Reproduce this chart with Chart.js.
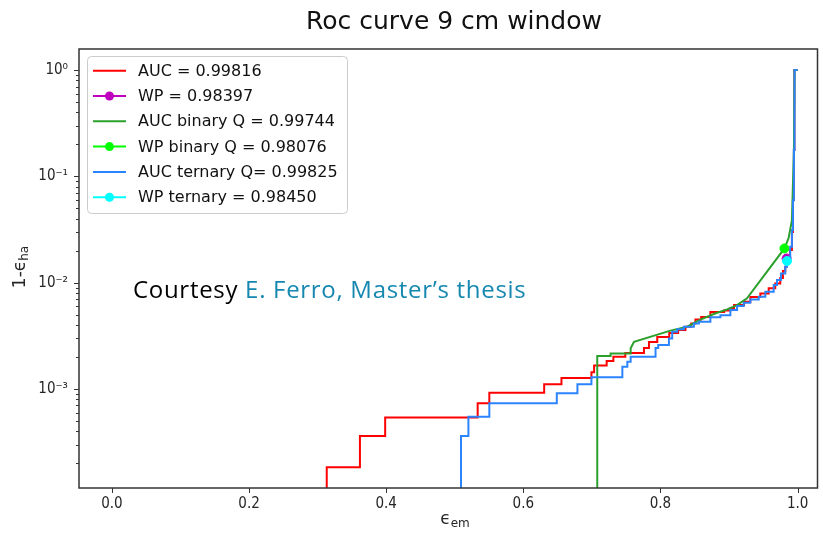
<!DOCTYPE html>
<html>
<head>
<meta charset="utf-8">
<script src="https://cdn.jsdelivr.net/npm/chart.js@4.4.1/dist/chart.umd.min.js"></script>
<style>
  html, body { margin: 0; padding: 0; background: #fff; overflow: hidden; }
  canvas { display: block; }
</style>
</head>
<body>
<canvas id="roc" width="823" height="534"></canvas>
<script>
// zero background rejection sits below the log axis and gets clipped
const FLOOR = 1e-6;

// full classifier
const aucX = [0.3133, 0.3133, 0.3617, 0.3985, 0.5334, 0.5504, 0.6304, 0.6556, 0.6993, 0.7032,
  0.7215, 0.7313, 0.7487, 0.7759, 0.7832, 0.7953, 0.8128, 0.8258, 0.8365, 0.8448,
  0.8510, 0.8593, 0.8728, 0.8928, 0.9020, 0.9073, 0.9219, 0.9311, 0.9456, 0.9578,
  0.9674, 0.9747, 0.9786, 0.9820, 0.9840, 0.9888, 0.9917, 0.9932, 0.9946, 0.9953, 1.0];
const aucY = [FLOOR, 1.83e-4, 3.60e-4, 5.40e-4, 7.32e-4, 9.21e-4, 1.11e-3, 1.27e-3, 1.44e-3, 1.66e-3,
  1.83e-3, 2.01e-3, 2.18e-3, 2.43e-3, 2.76e-3, 3.08e-3, 3.36e-3, 3.58e-3, 3.85e-3, 4.14e-3,
  4.50e-3, 4.75e-3, 5.29e-3, 5.46e-3, 5.77e-3, 6.15e-3, 6.61e-3, 7.32e-3, 7.93e-3, 8.84e-3,
  9.85e-3, 1.105e-2, 1.285e-2, 1.41e-2, 1.69e-2, 2.03e-2, 3.0e-2, 6.0e-2, 0.177, 1.0, 1.0];

// binary Q
const binX = [0.7078, 0.7078, 0.7273, 0.7273, 0.7565, 0.7565, 0.7614, 0.8146, 0.8389, 0.8583,
  0.8778, 0.8971, 0.9117, 0.9262, 0.98076, 0.9869, 0.9917, 0.9946, 0.9955, 1.0];
const binY = [FLOOR, 2.04e-3, 2.04e-3, 2.16e-3, 2.16e-3, 2.41e-3, 2.78e-3, 3.54e-3, 3.85e-3, 4.50e-3,
  5.07e-3, 5.61e-3, 6.15e-3, 7.12e-3, 2.10e-2, 2.63e-2, 3.88e-2, 0.177, 1.0, 1.0];

// ternary Q
const terX = [0.5091, 0.5091, 0.5199, 0.5504, 0.6488, 0.6789, 0.6993, 0.7444, 0.7517, 0.7565,
  0.7928, 0.7967, 0.8123, 0.8171, 0.8244, 0.8341, 0.8487, 0.8560, 0.8728, 0.8874,
  0.9019, 0.9117, 0.9214, 0.9310, 0.9433, 0.9529, 0.9651, 0.9699, 0.9757, 0.9820,
  0.9845, 0.9892, 0.9917, 0.9932, 0.9946, 0.9955, 1.0];
const terY = [FLOOR, 3.60e-4, 5.47e-4, 7.32e-4, 9.09e-4, 1.11e-3, 1.29e-3, 1.62e-3, 1.80e-3, 2.01e-3,
  2.43e-3, 2.59e-3, 2.99e-3, 3.45e-3, 3.64e-3, 3.85e-3, 4.14e-3, 4.29e-3, 4.72e-3, 4.95e-3,
  5.52e-3, 6.03e-3, 6.47e-3, 6.96e-3, 7.37e-3, 8.21e-3, 9.49e-3, 1.058e-2, 1.223e-2, 1.41e-2,
  1.60e-2, 2.18e-2, 3.13e-2, 5.98e-2, 0.177, 1.0, 1.0];

// working points
const wpX = [0.98397];
const wpY = [0.0169];
const wpBinX = [0.98076];
const wpBinY = [0.0210];
const wpTerX = [0.98450];
const wpTerY = [0.0160];

const seriesLabels = [
  "AUC = 0.99816",
  "WP = 0.98397",
  "AUC binary Q = 0.99744",
  "WP binary Q = 0.98076",
  "AUC ternary Q= 0.99825",
  "WP ternary = 0.98450",
];

const xTicks = [0, 0.2, 0.4, 0.6, 0.8, 1.0];
const yMajorTicks = [1e-3, 1e-2, 1e-1, 1];
const yMajorLabels = ["10\u207B\u00B3", "10\u207B\u00B2", "10\u207B\u00B9", "10\u2070"];

const RED = "#ff0000";
const GREEN = "#2ca02c";
const BLUE = "#2b84ff";
const MAGENTA = "#bf00bf";
const LIME = "#00ff00";
const CYAN = "#00ffff";
const INK = "#262626";
const TICK_FONT = "'DejaVu Sans Condensed', 'DejaVu Sans', sans-serif";

function points(xs, ys) {
  return xs.map((x, i) => ({ x, y: ys[i] }));
}

function curve(label, xs, ys, color, stepped, order) {
  return {
    label, data: points(xs, ys), borderColor: color, backgroundColor: color,
    borderWidth: 2, pointRadius: 0, stepped, order,
  };
}

function marker(label, xs, ys, color, order) {
  return {
    label, data: points(xs, ys), borderColor: color, backgroundColor: color,
    borderWidth: 2, pointRadius: 4.5, pointBorderWidth: 1, showLine: false, order,
  };
}

function drawSubscripted(ctx, base, sub, cx, baseline) {
  ctx.font = "17px 'DejaVu Sans'";
  const w1 = ctx.measureText(base).width;
  ctx.font = "12px 'DejaVu Sans'";
  const w2 = ctx.measureText(sub).width;
  const left = cx - (w1 + w2) / 2;
  ctx.textAlign = "left";
  ctx.textBaseline = "alphabetic";
  ctx.font = "17px 'DejaVu Sans'";
  ctx.fillText(base, left, baseline);
  ctx.font = "12px 'DejaVu Sans'";
  ctx.fillText(sub, left + w1, baseline + 3);
}

const overlay = {
  id: "overlay",
  afterDraw(chart) {
    const { ctx, chartArea: a, scales } = chart;
    ctx.save();

    // frame
    ctx.strokeStyle = "#333";
    ctx.lineWidth = 1.5;
    ctx.strokeRect(a.left, a.top, a.right - a.left, a.bottom - a.top);

    // tick marks, outward
    ctx.lineWidth = 1;
    ctx.beginPath();
    xTicks.forEach((v) => {
      const px = Math.round(scales.x.getPixelForValue(v)) + 0.5;
      ctx.moveTo(px, a.bottom);
      ctx.lineTo(px, a.bottom + 5);
    });
    scales.y.ticks.forEach((t) => {
      const py = Math.round(scales.y.getPixelForValue(t.value)) + 0.5;
      ctx.moveTo(a.left, py);
      ctx.lineTo(a.left - (t.major ? 5 : 3), py);
    });
    ctx.stroke();

    // title
    ctx.fillStyle = "#111";
    ctx.font = "25px 'DejaVu Sans'";
    ctx.textAlign = "center";
    ctx.textBaseline = "alphabetic";
    ctx.fillText("Roc curve 9 cm window", 454, 29);

    // axis titles
    ctx.fillStyle = INK;
    drawSubscripted(ctx, "\u03F5", "em", 455, 524);
    ctx.save();
    ctx.translate(19, 267);
    ctx.rotate(-Math.PI / 2);
    drawSubscripted(ctx, "1-\u03F5", "ha", 0, 6);
    ctx.restore();

    // legend
    const box = { x: 87, y: 56, w: 260, h: 157 };
    ctx.beginPath();
    ctx.roundRect(box.x + 0.5, box.y + 0.5, box.w, box.h, 4);
    ctx.fillStyle = "rgba(255,255,255,0.8)";
    ctx.fill();
    ctx.strokeStyle = "#cccccc";
    ctx.lineWidth = 1;
    ctx.stroke();
    ctx.font = "16px 'DejaVu Sans'";
    ctx.textAlign = "left";
    ctx.textBaseline = "middle";
    chart.data.datasets.forEach((ds, i) => {
      const rowY = 70.7 + i * 25.3;
      ctx.strokeStyle = ds.borderColor;
      ctx.lineWidth = 2;
      ctx.beginPath();
      ctx.moveTo(93, rowY);
      ctx.lineTo(126, rowY);
      ctx.stroke();
      if (ds.pointRadius > 0) {
        ctx.beginPath();
        ctx.arc(109.5, rowY, ds.pointRadius, 0, Math.PI * 2);
        ctx.fillStyle = ds.backgroundColor;
        ctx.fill();
      }
      ctx.fillStyle = "#111";
      ctx.fillText(ds.label, 138, rowY + 1);
    });

    // credit line
    ctx.textBaseline = "alphabetic";
    ctx.font = "24px 'Open Sans', 'Noto Sans', sans-serif";
    ctx.letterSpacing = "0.7px";
    const lead = "Courtesy ";
    ctx.fillStyle = "#000";
    ctx.fillText(lead, 133, 298);
    const leadW = ctx.measureText(lead).width;
    ctx.fillStyle = "#1688b0";
    ctx.fillText("E. Ferro, Master\u2019s thesis", 133 + leadW, 298);

    ctx.restore();
  },
};

new Chart(document.getElementById("roc").getContext("2d"), {
  type: "line",
  data: {
    datasets: [
      curve(seriesLabels[0], aucX, aucY, RED, "before", 6),
      marker(seriesLabels[1], wpX, wpY, MAGENTA, 5),
      curve(seriesLabels[2], binX, binY, GREEN, false, 4),
      marker(seriesLabels[3], wpBinX, wpBinY, LIME, 3),
      curve(seriesLabels[4], terX, terY, BLUE, "before", 2),
      marker(seriesLabels[5], wpTerX, wpTerY, CYAN, 1),
    ],
  },
  options: {
    responsive: false,
    animation: false,
    events: [],
    layout: { padding: { top: 49, right: 4, bottom: 0, left: 0 } },
    plugins: { legend: { display: false }, tooltip: { enabled: false }, title: { display: false } },
    scales: {
      x: {
        type: "linear",
        min: -0.048,
        max: 1.029,
        afterBuildTicks: (scale) => { scale.ticks = xTicks.map((v) => ({ value: v })); },
        afterFit: (scale) => { scale.height = 46; },
        ticks: {
          color: INK, padding: 7, maxRotation: 0, autoSkip: false,
          font: { family: TICK_FONT, size: 15 },
          callback: (v) => Number(v).toFixed(1),
        },
        grid: { display: false, drawTicks: false },
        border: { display: false },
      },
      y: {
        type: "logarithmic",
        min: 1.17e-4,
        max: 1.58,
        afterBuildTicks: (scale) => {
          const ticks = [];
          for (let e = -4; e <= 0; e++) {
            for (let m = 1; m <= 9; m++) {
              const v = m * Math.pow(10, e);
              if (v >= scale.min && v <= scale.max) ticks.push({ value: v, major: m === 1 });
            }
          }
          scale.ticks = ticks;
        },
        afterFit: (scale) => { scale.width = 79; },
        ticks: {
          color: INK, padding: 11, autoSkip: false,
          font: { family: TICK_FONT, size: 15 },
          callback: (v) => {
            const k = yMajorTicks.findIndex((t) => Math.abs(t - v) / t < 1e-6);
            return k >= 0 ? yMajorLabels[k] : "";
          },
        },
        grid: { display: false, drawTicks: false },
        border: { display: false },
      },
    },
  },
  plugins: [overlay],
});
</script>
</body>
</html>
